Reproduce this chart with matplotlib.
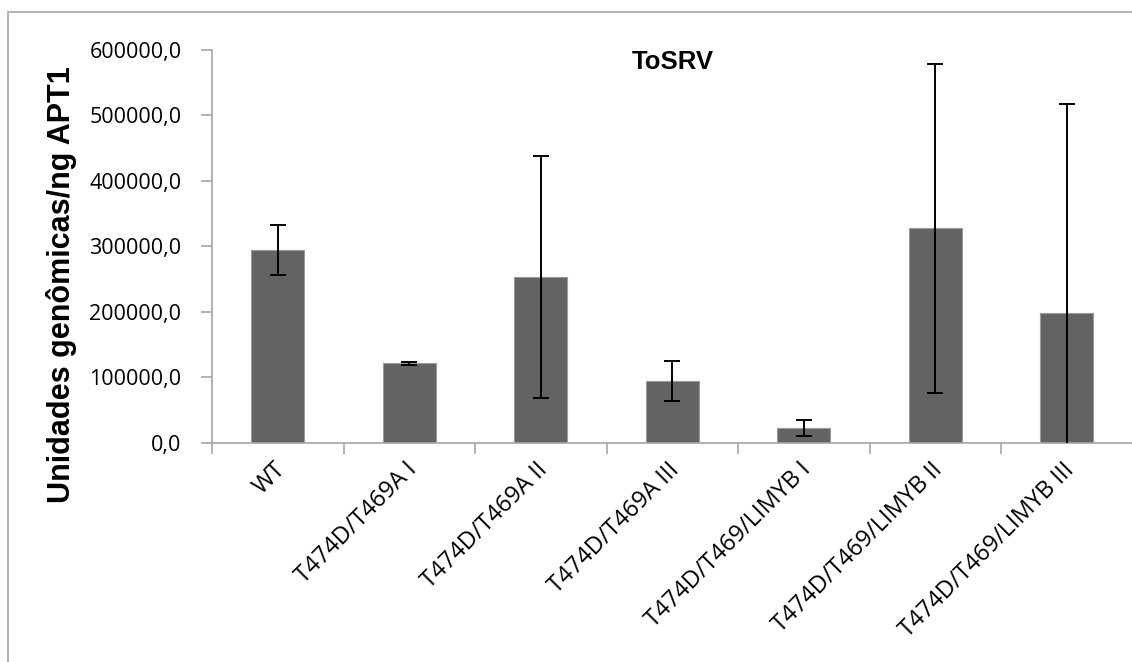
import matplotlib
matplotlib.use("Agg")
import matplotlib.pyplot as plt
from matplotlib.ticker import FuncFormatter, FixedLocator
from matplotlib.patches import Rectangle
import numpy as np

categories = ["WT", "T474D/T469A I", "T474D/T469A II", "T474D/T469A III",
              "T474D/T469/LIMYB I", "T474D/T469/LIMYB II", "T474D/T469/LIMYB III"]
values = [294400, 121300, 253500, 94300, 22000, 327600, 197700]
errors = [38000, 2500, 184500, 30500, 12300, 251000, 319800]
y_ticks = [0, 100000, 200000, 300000, 400000, 500000, 600000]

W, H = 1132, 662
fig = plt.figure(figsize=(W / 100, H / 100), dpi=100)

# outer chart frame (left/top visible, right/bottom off the image)
fig.patches.append(Rectangle((8 / W, -0.1), 1.2, 1.1 - 12 / H,
                             transform=fig.transFigure, fill=False,
                             edgecolor="#a6a6a6", linewidth=1.2))

ax = fig.add_axes([212 / W, 1 - 442.7 / H, 920.5 / W, (442.7 - 50) / H])
x = np.arange(len(categories))
ax.bar(x, values, width=0.405, color="#636363", edgecolor="#9a9a9a",
       linewidth=0.8, zorder=2)
ax.errorbar(x, values, yerr=errors, fmt="none", ecolor="black",
            elinewidth=1.4, capsize=6, capthick=1.4, zorder=3)

ax.set_xlim(-0.5, len(categories) - 0.5)
ax.set_ylim(0, 600000)
ax.yaxis.set_major_locator(FixedLocator(y_ticks))
ax.yaxis.set_major_formatter(FuncFormatter(lambda v, p: f"{v:.1f}".replace(".", ",")))

for s in ["top", "right"]:
    ax.spines[s].set_visible(False)
for s in ["left", "bottom"]:
    ax.spines[s].set_color("#a6a6a6")
    ax.spines[s].set_linewidth(1.2)

ax.set_xticks(np.arange(len(categories) + 1) - 0.5, minor=False)
ax.set_xticklabels([])
ax.tick_params(axis="x", length=8, color="#a6a6a6", width=1.2)
ax.tick_params(axis="y", length=8, color="#a6a6a6", width=1.2,
               labelsize=15.5, pad=14)
for lab in ax.get_yticklabels():
    lab.set_family("Open Sans")

for i, c in enumerate(categories):
    ax.text(i + 0.03, -0.06, c, transform=ax.get_xaxis_transform(),
            rotation=45, ha="right", va="center", rotation_mode="anchor",
            fontsize=17, family="Open Sans")

ax.set_title("ToSRV", fontsize=18.5, fontweight="bold", family="Liberation Sans",
             y=0.93)
fig.text(62 / W, 1 - 285 / H, "Unidades genômicas/ng APT1", rotation=90,
         ha="center", va="center", fontsize=22, fontweight="bold",
         family="Liberation Sans")

fig.savefig("out.png", dpi=100)
